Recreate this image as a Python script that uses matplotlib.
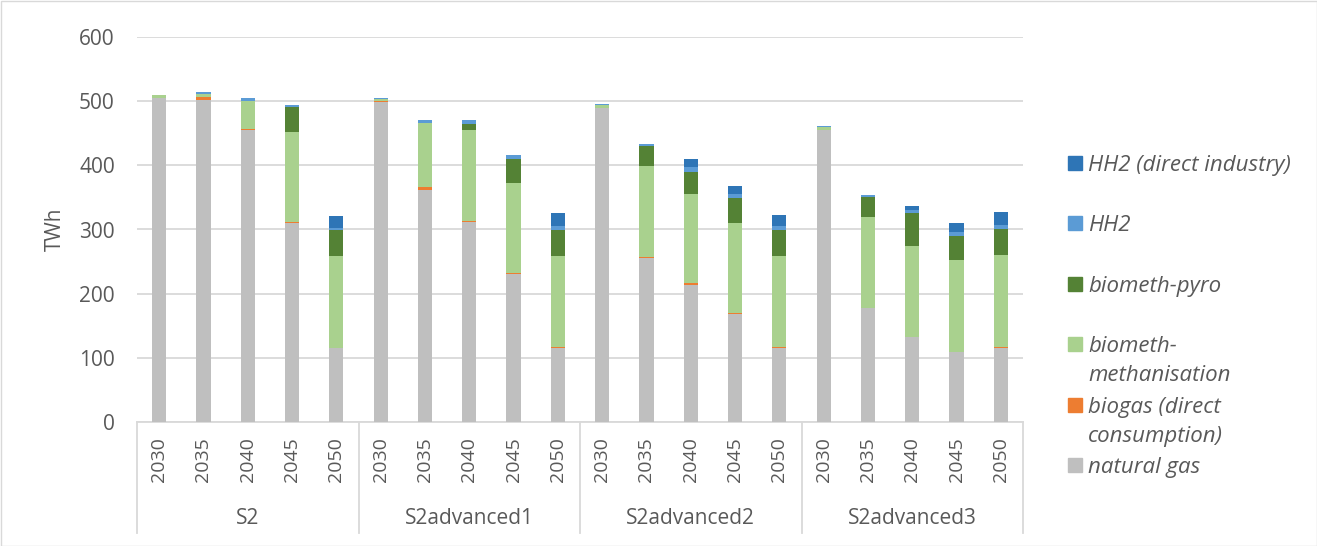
import numpy as np
import matplotlib.pyplot as plt
from matplotlib.patches import Rectangle
from matplotlib.transforms import blended_transform_factory

plt.rcParams['font.family'] = ['Open Sans', 'DejaVu Sans']

scenarios = ['S2', 'S2advanced1', 'S2advanced2', 'S2advanced3']
years = ['2030', '2035', '2040', '2045', '2050']

# TWh per bar, scenario by scenario (5 years each)
natural_gas = [505, 502, 455, 310, 116,
               499, 361, 311, 231, 116,
               489, 256, 214, 168, 116,
               455, 177, 132, 109, 116]
biogas = [0, 5, 2, 1, 0,
          0.5, 5, 2, 1, 1,
          1, 0.5, 2, 1.5, 1,
          0, 0, 0, 0, 0.5]
biometh_methanisation = [4, 4, 44, 141, 143,
                         4, 100, 142, 141, 142,
                         4, 142, 140, 141, 142,
                         4, 143, 143, 143, 143]
biometh_pyro = [0, 0, 0, 39, 41,
                0, 0, 9, 37, 41,
                0, 31, 34, 38, 41,
                0, 31, 50, 38, 41]
hh2 = [1, 3, 4, 3, 2,
       2, 4, 6, 6, 6,
       2, 4, 8, 7, 6,
       3, 2, 5, 6, 6]
hh2_direct = [0, 0, 0, 0, 19,
              0, 0, 0, 0, 19,
              0, 0, 12, 12, 17,
              0, 0, 6, 14, 21]

series = [
    ('natural gas', natural_gas, '#bfbfbf'),
    ('biogas (direct\nconsumption)', biogas, '#ed7d31'),
    ('biometh-\nmethanisation', biometh_methanisation, '#a9d18e'),
    ('biometh-pyro', biometh_pyro, '#548235'),
    ('HH2', hh2, '#5b9bd5'),
    ('HH2 (direct industry)', hh2_direct, '#2e75b6'),
]

W, H = 1317, 546
fig = plt.figure(figsize=(W / 100, H / 100), dpi=100)
ax = fig.add_axes([137 / W, (H - 422) / H, (1023 - 137) / W, (422 - 37) / H])

n = len(scenarios) * len(years)
x = np.arange(n)
bottom = np.zeros(n)
for name, vals, color in series:
    vals = np.array(vals, dtype=float)
    ax.bar(x, vals, 0.32, bottom=bottom, color=color, zorder=3)
    bottom += vals

text_col = '#595959'
grid_col = '#d9d9d9'
fs = 15

ax.set_xlim(-0.5, n - 0.5)
ax.set_ylim(0, 600)
ax.set_yticks(range(0, 601, 100))
ax.grid(axis='y', color=grid_col, linewidth=1.3, zorder=0)
for s in ['top', 'right', 'left']:
    ax.spines[s].set_visible(False)
ax.spines['bottom'].set_color(grid_col)
ax.spines['bottom'].set_linewidth(1.3)
ax.tick_params(axis='y', length=0, pad=16, labelsize=fs, labelcolor=text_col)
ax.set_xticks(x)
ax.set_xticklabels(years * len(scenarios), rotation=90)
ax.tick_params(axis='x', length=0, pad=11, labelsize=fs - 1, labelcolor=text_col)
ax.set_ylabel('TWh', fontsize=fs, color=text_col, va='center')
ax.yaxis.set_label_coords(-82 / 886, 0.5)

# second category row: scenario names with separators
tr = blended_transform_factory(ax.transData, ax.transAxes)
ax_h = 422 - 37
for k in range(len(scenarios) + 1):
    xs = k * len(years) - 0.5
    ax.plot([xs, xs], [0, -111 / ax_h], transform=tr, color=grid_col,
            linewidth=1.3, clip_on=False)
for k, name in enumerate(scenarios):
    xc = k * len(years) + (len(years) - 1) / 2
    ax.text(xc, -97 / ax_h, name, transform=tr, ha='center', va='center',
            fontsize=fs, color=text_col)

# legend, top entry first; wrapped labels keep the square on the first line
leg_y = [163, 223, 284, 344, 405, 465]
for (name, vals, color), yy in zip(series[::-1], leg_y):
    fig.patches.append(Rectangle((1068 / W, (H - yy - 7) / H), 14 / W, 14 / H,
                                 transform=fig.transFigure, color=color))
    for i, line in enumerate(name.split('\n')):
        fig.text(1088 / W, (H - yy - 8 - 29 * i) / H, line, ha='left',
                 va='baseline', fontsize=16, style='italic', color=text_col)

# chart border
fig.patches.append(Rectangle((0.5 / W, 0.5 / H), (W - 1) / W, (H - 1) / H,
                             transform=fig.transFigure, fill=False,
                             edgecolor=grid_col, linewidth=1))

fig.savefig('out.png', dpi=100)
